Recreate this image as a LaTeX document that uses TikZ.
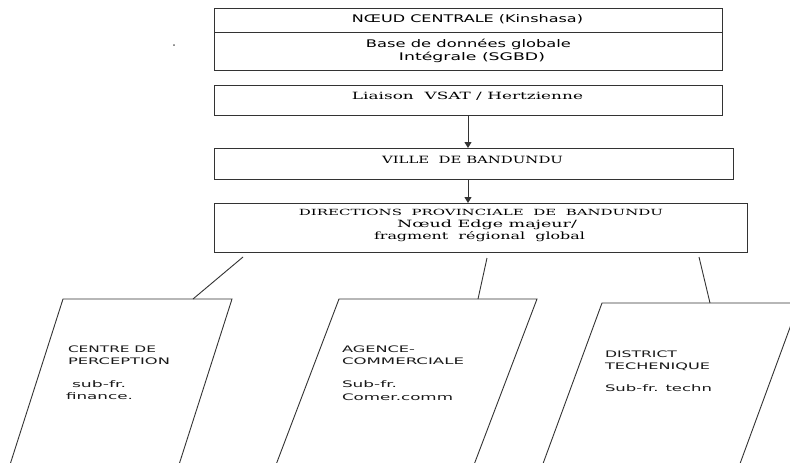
\documentclass[tikz,border=0pt]{standalone}
\usepackage{fontspec}
\usepackage{graphicx}
\usetikzlibrary{arrows.meta,calc}
\newfontfamily\sansf{DejaVu Sans}
\newfontfamily\seriff{DejaVu Serif}
\newcommand\fitw[2]{\resizebox{#1pt}{\height}{#2}}
\begin{document}
\begin{tikzpicture}[x=1pt,y=-1pt,
  box/.style={draw=black!80, line width=1pt, inner sep=0pt, outer sep=0pt},
  lbl/.style={inner sep=0pt, outer sep=0pt, anchor=base, text=black},
  lbll/.style={inner sep=0pt, outer sep=0pt, anchor=base west, text=black!90},
  topf/.style={font=\sansf\fontsize{10.5}{12}\selectfont},
  serf/.style={font=\seriff\fontsize{10}{12}\selectfont},
  sers/.style={font=\seriff\fontsize{8.5}{10}\selectfont},
  parf/.style={font=\sansf\fontsize{9}{11}\selectfont},
  conn/.style={draw=black!80, line width=0.9pt},
  arr/.style={conn, -{Triangle[width=7pt,length=6pt]}},
  para/.style={draw=black!80, line width=0.9pt, fill=white}
]
\useasboundingbox (0,0) rectangle (790,463);
\clip (0,0) rectangle (790,463);
\fill[white] (0,0) rectangle (790,463);

% stray mark
\node[lbll, font=\sansf\fontsize{14}{16}\selectfont] (dot) at (172.5,46.5) {\fitw{3}{.}};

% boxes
\node[box, minimum width=508pt, minimum height=62pt] (central) at (468,39) {};
\draw[conn] ($(central.north west)+(0,24)$) -- ($(central.north east)+(0,24)$);
\node[box, minimum width=508pt, minimum height=30pt] (liaison) at (468,100) {};
\node[box, minimum width=519pt, minimum height=31pt] (ville) at (473.5,163.5) {};
\node[box, minimum width=533pt, minimum height=49pt] (dir) at (480.5,227.5) {};

% arrows
\draw[arr] (liaison.south) -- (liaison.south |- ville.north);
\draw[arr] (liaison.south |- ville.south) -- (liaison.south |- dir.north);

% box texts
\node[lbl, topf] (t1) at (467.5,22.7) {\fitw{231}{NŒUD CENTRALE (Kinshasa)}};
\node[lbl, topf] (t2) at (468.5,47) {\fitw{205}{Base de données globale}};
\node[lbl, topf] (t3) at (472,60.7) {\fitw{146}{Intégrale (SGBD)}};
\node[lbl, serf] (t4) at (467.5,99) {\fitw{231}{Liaison\ \ VSAT / Hertzienne}};
\node[lbl, serf] (t5) at (472.5,163) {\fitw{181}{VILLE\ \ DE\ BANDUNDU}};
\node[lbl, sers] (t6) at (481,215) {\fitw{364}{DIRECTIONS\ \ PROVINCIALE\ \ DE\ \ BANDUNDU}};
\node[lbl, serf] (t7) at (487,227) {\fitw{180}{Nœud Edge majeur/}};
\node[lbl, serf] (t8) at (479.5,239.5) {\fitw{211}{fragment\ \ régional\ \ global}};

% parallelograms
\coordinate (p1a) at (63,299);  \coordinate (p1b) at (232,299);
\coordinate (p1c) at (174.1,480); \coordinate (p1d) at (5.1,480);
\coordinate (p2a) at (339,299); \coordinate (p2b) at (537,299);
\coordinate (p2c) at (468.2,480); \coordinate (p2d) at (270.2,480);
\coordinate (p3a) at (602,303); \coordinate (p3b) at (799,303);
\coordinate (p3c) at (734,480); \coordinate (p3d) at (537,480);
\draw[para] (p1a) -- (p1b) -- (p1c) -- (p1d) -- cycle;
\draw[para] (p2a) -- (p2b) -- (p2c) -- (p2d) -- cycle;
\draw[para] (p3a) -- (p3b) -- (p3c) -- (p3d) -- cycle;

% connectors from directions box
\coordinate (d1) at (243,257); \coordinate (e1) at (193,299);
\coordinate (d2) at (487,258); \coordinate (e2) at (478,299);
\coordinate (d3) at (699,257); \coordinate (e3) at (710,303);
\draw[conn] (d1) -- (e1);
\draw[conn] (d2) -- (e2);
\draw[conn] (d3) -- (e3);

% parallelogram texts
\node[lbll, parf] (a1) at (68,352) {\fitw{88}{CENTRE DE}};
\node[lbll, parf] (a2) at (68,364) {\fitw{102}{PERCEPTION}};
\node[lbll, parf] (a3) at (72,387.5) {\fitw{54}{sub-fr.}};
\node[lbll, parf] (a4) at (66,399) {\fitw{67}{finance.}};
\node[lbll, parf] (b1) at (342,352) {\fitw{73}{AGENCE-}};
\node[lbll, parf] (b2) at (342,364) {\fitw{122}{COMMERCIALE}};
\node[lbll, parf] (b3) at (342,387.5) {\fitw{55}{Sub-fr.}};
\node[lbll, parf] (b4) at (342,400) {\fitw{111}{Comer.comm}};
\node[lbll, parf] (c1) at (605,357) {\fitw{72}{DISTRICT}};
\node[lbll, parf] (c2) at (605,369) {\fitw{105}{TECHENIQUE}};
\node[lbll, parf] (c3) at (605,391) {\fitw{107}{Sub-fr. techn}};
\end{tikzpicture}
\end{document}
